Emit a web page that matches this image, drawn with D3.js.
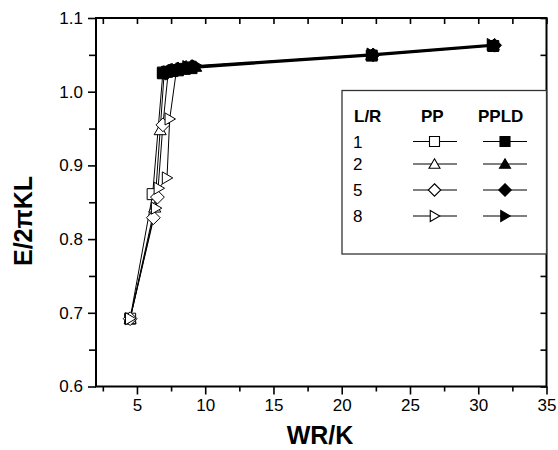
<!DOCTYPE html>
<html><head><meta charset="utf-8">
<script src="https://cdn.jsdelivr.net/npm/d3@7"></script>
<style>body{margin:0;background:#fff}svg{display:block}text{font-family:"Liberation Sans",Arial,sans-serif}</style>
</head><body><svg id="c" width="558" height="450"></svg>
<script>
// ---- data ----
const lrValues = ["1", "2", "5", "8"];
const shapes = ["square", "triangle", "diamond", "right"];
const xTicks = [5, 10, 15, 20, 25, 30, 35];
const yTicks = [0.6, 0.7, 0.8, 0.9, 1.0, 1.1];
const pp1 = [[4.5,0.692],[6.15,0.861],[6.9,1.026]];
const pp2 = [[4.5,0.692],[6.3,0.843],[6.7,0.948],[7.0,1.027]];
const pp5 = [[4.5,0.692],[6.2,0.829],[6.5,0.857],[6.9,0.955],[7.3,1.028]];
const pp8 = [[4.5,0.692],[6.4,0.842],[6.6,0.869],[7.2,0.883],[7.4,0.963],[7.9,1.030]];
const ppld1 = [[6.9,1.025],[7.2,1.027],[7.6,1.028],[8.0,1.029],[8.5,1.031],[9.0,1.032],[22.2,1.049],[31.1,1.062]];
const ppld2 = [[7.0,1.026],[7.4,1.028],[7.8,1.030],[8.3,1.031],[8.8,1.033],[9.3,1.034],[22.2,1.050],[31.1,1.063]];
const ppld5 = [[7.1,1.025],[7.5,1.029],[8.0,1.031],[8.6,1.033],[9.0,1.034],[22.3,1.050],[31.2,1.063]];
const ppld8 = [[7.3,1.027],[7.7,1.029],[8.2,1.031],[8.7,1.034],[9.4,1.035],[22.2,1.051],[31.0,1.064]];
const ppSeries = [pp1, pp2, pp5, pp8];
const ppldSeries = [ppld1, ppld2, ppld5, ppld8];

// ---- layout ----
const L = 96, R = 546.5, T = 18, B = 386.5;
const svg = d3.select("#c");
const x = d3.scaleLinear().domain([2, 35]).range([L, R]);
const y = d3.scaleLinear().domain([0.6, 1.1]).range([B, T]);

function marker(shape, r) {
  switch (shape) {
    case "square": return `M${-r},${-r}H${r}V${r}H${-r}Z`;
    case "triangle": return `M0,${-r*1.05}L${r*1.1},${r*0.85}L${-r*1.1},${r*0.85}Z`;
    case "diamond": return `M0,${-r*1.25}L${r*1.25},0L0,${r*1.25}L${-r*1.25},0Z`;
    case "right": return `M${-r*0.85},${-r*1.1}L${r*1.05},0L${-r*0.85},${r*1.1}Z`;
  }
}

// axes
const minorX = d3.range(2.5, 35, 5);
const minorY = [0.65, 0.75, 0.85, 0.95, 1.05];
const gx = svg.append("g").attr("transform", `translate(0,${B})`)
  .call(d3.axisBottom(x).tickValues(xTicks).tickSize(8).tickSizeOuter(0).tickPadding(4).tickFormat(d3.format("d")));
const gxm = svg.append("g").attr("transform", `translate(0,${B})`)
  .call(d3.axisBottom(x).tickValues(minorX).tickSize(5).tickSizeOuter(0).tickFormat(""));
const gxt = svg.append("g").attr("transform", `translate(0,${T})`)
  .call(d3.axisBottom(x).tickValues(xTicks.concat(minorX)).tickSize(6).tickSizeOuter(0).tickFormat(""));
const gy = svg.append("g").attr("transform", `translate(${L},0)`)
  .call(d3.axisLeft(y).tickValues(yTicks).tickSize(8).tickSizeOuter(0).tickPadding(5).tickFormat(d3.format(".1f")));
const gym = svg.append("g").attr("transform", `translate(${L},0)`)
  .call(d3.axisLeft(y).tickValues(minorY).tickSize(7).tickSizeOuter(0).tickFormat(""));
const gyr = svg.append("g").attr("transform", `translate(${R},0)`)
  .call(d3.axisLeft(y).tickValues(yTicks.concat(minorY)).tickSize(6).tickSizeOuter(0).tickFormat(""));
[gx, gxm, gxt, gy, gym, gyr].forEach(g => {
  g.select(".domain").remove();
  g.selectAll(".tick line").attr("stroke", "#000").attr("stroke-width", 1.6);
  g.selectAll("text").attr("font-size", 17).attr("fill", "#000").style("font-family", '"Liberation Sans",Arial,sans-serif');
});

// data lines
const line = d3.line().x(d => x(d[0])).y(d => y(d[1]));
const plot = svg.append("g");
ppSeries.forEach((s, i) => {
  plot.append("path").attr("d", line(s)).attr("fill", "none").attr("stroke", "#000").attr("stroke-width", 1);
});
ppSeries.forEach((s, i) => {
  plot.selectAll(null).data(s).enter().append("path")
    .attr("transform", d => `translate(${x(d[0])},${y(d[1])})`)
    .attr("d", marker(shapes[i], 5.5)).attr("fill", "#fff").attr("stroke", "#000").attr("stroke-width", 1);
});
ppldSeries.forEach((s, i) => {
  plot.append("path").attr("d", line(s)).attr("fill", "none").attr("stroke", "#000").attr("stroke-width", 1.6);
});
ppldSeries.forEach((s, i) => {
  plot.selectAll(null).data(s).enter().append("path")
    .attr("transform", d => `translate(${x(d[0])},${y(d[1])})`)
    .attr("d", marker(shapes[i], 5.5)).attr("fill", "#000").attr("stroke", "#000").attr("stroke-width", 1);
});

// frame
svg.append("rect").attr("x", L).attr("y", T).attr("width", R - L).attr("height", B - T)
  .attr("fill", "none").attr("stroke", "#000").attr("stroke-width", 2);

// legend
const lg = svg.append("g");
lg.append("rect").attr("x", 342).attr("y", 90.5).attr("width", R - 342).attr("height", 254 - 90.5)
  .attr("fill", "#fff").attr("stroke", "#333").attr("stroke-width", 1.3);
const hdr = [["L/R", 354], ["PP", 421], ["PPLD", 478]];
hdr.forEach(h => lg.append("text").attr("x", h[1]).attr("y", 122).attr("font-size", 17).attr("font-weight", "bold").text(h[0]));
const rowY = [141.5, 164, 190, 216];
lrValues.forEach((v, i) => {
  const ry = rowY[i];
  lg.append("text").attr("x", 353).attr("y", ry + 6).attr("font-size", 17).text(v);
  [[413, 457, 434.5, "#fff"], [483, 527, 505, "#000"]].forEach(c => {
    lg.append("line").attr("x1", c[0]).attr("x2", c[1]).attr("y1", ry).attr("y2", ry).attr("stroke", "#000").attr("stroke-width", 1.2);
    lg.append("path").attr("transform", `translate(${c[2]},${ry})`).attr("d", marker(shapes[i], 5))
      .attr("fill", c[3]).attr("stroke", "#000").attr("stroke-width", 1.1);
  });
});

// axis titles
svg.append("text").attr("x", 320).attr("y", 444).attr("text-anchor", "middle")
  .attr("font-size", 25).attr("font-weight", "bold").text("WR/K");
svg.append("text").attr("transform", "translate(32,221) rotate(-90)").attr("text-anchor", "middle")
  .attr("font-size", 25).attr("font-weight", "bold").text("E/2πKL");
</script></body></html>
